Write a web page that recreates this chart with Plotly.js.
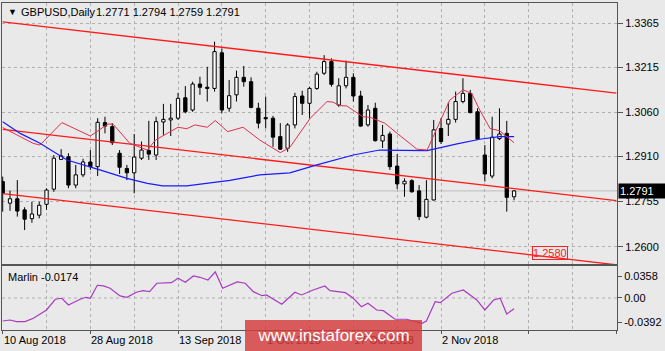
<!DOCTYPE html>
<html>
<head>
<meta charset="utf-8">
<script src="https://cdn.plot.ly/plotly-3.0.1.min.js"></script>
<style>html,body{margin:0;padding:0;background:#e9e9e9;}#chart{width:665px;height:351px;}</style>
</head>
<body>
<div id="chart"></div>
<script>
// ---- data (bar index 0 = 10 Aug 2018 ... 70 = 16 Nov 2018) ----
const openP  = [1.2823,1.2749,1.2764,1.2726,1.2696,1.2708,1.2745,1.2797,1.2899,1.2908,1.2811,1.2846,1.2890,1.2874,1.3025,1.3011,1.2920,1.2868,1.2853,1.2903,1.2929,1.2914,1.3027,1.3034,1.3040,1.3110,1.3068,1.3157,1.3146,1.3142,1.3264,1.3074,1.3120,1.3180,1.3165,1.3074,1.3042,1.3040,1.2977,1.2937,1.3017,1.3116,1.3091,1.3142,1.3194,1.3234,1.3085,1.3151,1.3180,1.3116,1.3017,1.3074,1.2962,1.2986,1.2876,1.2815,1.2826,1.2791,1.2701,1.2760,1.3005,1.3020,1.3036,1.3097,1.3125,1.3062,1.2914,1.2842,1.2970,1.2988,1.2771];
const highP  = [1.2840,1.2792,1.2828,1.2735,1.2754,1.2754,1.2800,1.2914,1.2934,1.2920,1.2880,1.2901,1.2931,1.3040,1.3045,1.3023,1.2931,1.2880,1.2986,1.2960,1.3031,1.3045,1.3089,1.3089,1.3127,1.3150,1.3165,1.3182,1.3216,1.3302,1.3279,1.3171,1.3203,1.3219,1.3180,1.3093,1.3114,1.3048,1.3023,1.3023,1.3127,1.3134,1.3148,1.3199,1.3256,1.3245,1.3177,1.3237,1.3194,1.3134,1.3085,1.3093,1.3017,1.2994,1.2917,1.2834,1.2831,1.2811,1.2828,1.3034,1.3040,1.3093,1.3131,1.3177,1.3137,1.3074,1.2948,1.3045,1.3074,1.3031,1.2794];
const lowP   = [1.2720,1.2723,1.2703,1.2657,1.2682,1.2697,1.2726,1.2788,1.2897,1.2800,1.2800,1.2838,1.2863,1.2842,1.2988,1.2948,1.2849,1.2828,1.2783,1.2897,1.2897,1.2897,1.2983,1.2979,1.3034,1.3057,1.3062,1.3120,1.3097,1.3131,1.3057,1.3062,1.3097,1.3148,1.3074,1.3005,1.3005,1.2942,1.2931,1.2925,1.3005,1.3051,1.3040,1.3137,1.3188,1.3148,1.3079,1.3142,1.3097,1.3011,1.3011,1.2960,1.2938,1.2863,1.2797,1.2771,1.2785,1.2691,1.2697,1.2758,1.2952,1.2979,1.3025,1.3091,1.3057,1.2965,1.2823,1.2834,1.2965,1.2720,1.2759];
const closeP = [1.2783,1.2764,1.2722,1.2694,1.2712,1.2742,1.2794,1.2903,1.2911,1.2811,1.2846,1.2890,1.2874,1.3026,1.3013,1.2956,1.2872,1.2853,1.2907,1.2931,1.2917,1.3028,1.3036,1.3040,1.3108,1.3062,1.3157,1.3146,1.3142,1.3268,1.3068,1.3117,1.3180,1.3165,1.3077,1.3023,1.3038,1.2975,1.2934,1.3017,1.3114,1.3091,1.3142,1.3191,1.3234,1.3156,1.3151,1.3180,1.3116,1.3013,1.3068,1.2963,1.2981,1.2874,1.2815,1.2824,1.2788,1.2703,1.2762,1.3000,1.2960,1.3036,1.3097,1.3125,1.3059,1.2968,1.2849,1.2975,1.2986,1.2769,1.2791];

// short moving average (red): bar index / price
const maRedX = [0,4.15,5.1,6.5,8.1,12,14.4,15.1,17.4,19.8,20.9,24,25.2,26.3,28,29.1,30.8,32.9,35.2,38,39.3,42.1,44.4,45.2,46.2,47.1,49.3,50.3,52.3,54,56.7,58.1,60.1,61.2,63,64.2,65.3,66.7,68,70];
const maRedY = [1.3008,1.2954,1.2948,1.2983,1.3025,1.2979,1.3020,1.3020,1.2954,1.2931,1.2965,1.3009,1.3004,1.3017,1.3009,1.3032,1.2994,1.3009,1.2965,1.2922,1.2940,1.3040,1.3097,1.3095,1.3083,1.3082,1.3045,1.3043,1.3023,1.2988,1.2934,1.2931,1.3040,1.3102,1.3137,1.3125,1.3068,1.3005,1.2997,1.2956];
// long moving average (blue)
const maBlueX = [0,2.4,5.1,6.9,8.8,13.3,17,19.8,21.9,25.2,28,31.1,35.2,39.3,43,48,51.6,57.1,58.1,62.2,65.3,68,70];
const maBlueY = [1.3028,1.2988,1.2954,1.2925,1.2897,1.2863,1.2834,1.2817,1.2808,1.2808,1.2817,1.2827,1.2846,1.2853,1.2880,1.2914,1.2931,1.2929,1.2929,1.2952,1.2968,1.2977,1.2977];
// trend channel (drawn lines)
const chanX   = [0, 84];
const chanTop = [1.3370, 1.3126];
const chanMid = [1.3002, 1.2758];
const chanBot = [1.2782, 1.2538];
const targetPrice = 1.2580;
const lastPrice = 1.2791;
// Marlin oscillator
const marlinX = [0,1,1.9,3.05,4.2,6,7.2,8.1,9,10.6,11.4,12,12.95,13.8,14.7,16.06,17,18.3,19.2,20.1,21.1,23.1,24,25,26.1,27,28.1,29.1,30.1,31.1,32.1,33.2,34.3,35.5,36.1,38.2,40,40.9,42.5,44.1,44.8,46.9,48,49.1,50,51.2,52.1,53.7,55.3,57.4,58,59.2,59.9,61.5,63.05,64.9,66,67.2,68.1,69,70];
const marlinY = [-0.0375,-0.0359,-0.0386,-0.0386,-0.0331,-0.0196,-0.0021,-0.0005,-0.0114,-0.0021,0.0011,-0.0005,0.0207,0.0196,0.0158,0.0033,0.0011,0.0093,0.0119,0.0103,0.0240,0.0249,0.0321,0.0256,0.0359,0.0337,0.0293,0.0424,0.0158,0.0212,0.0261,0.0240,0.0103,0.0037,0.0049,-0.0103,0.0093,0.0049,0.0130,0.0196,0.0119,0.0086,-0.0005,-0.0142,-0.0086,-0.0196,-0.0207,-0.0347,-0.0347,-0.0412,-0.0375,-0.0060,-0.0077,0.0077,0.0130,-0.0033,-0.0196,-0.0033,-0.0005,-0.0261,-0.0174];
const marlinLast = -0.0174;
// axis labels
const priceTicks = [1.3365,1.3215,1.3060,1.2910,1.2755,1.2600];
const oscTicks = [0.0358, 0, -0.0392];
const oscTickText = ['0.0358','0.00','-0.0392'];
const dateTickIdx = [0,12,24,36,48,60];
const dateTickText = ['10 Aug 2018','28 Aug 2018','13 Sep 2018','1 Oct 2018','17 Oct 2018','2 Nov 2018'];

// ---- build ----
const idx = openP.map((_, i) => i);
const bodyBase = idx.map(i => Math.min(openP[i], closeP[i]));
const bodyLen = idx.map(i => Math.max(Math.abs(closeP[i] - openP[i]), 0.00004));
const bodyCol = idx.map(i => closeP[i] >= openP[i] ? '#ffffff' : '#000000');
const wx = [], wy = [];
idx.forEach(i => {
  wx.push(i, i, null, i, i, null);
  wy.push(lowP[i], Math.min(openP[i], closeP[i]), null, Math.max(openP[i], closeP[i]), highP[i], null);
});

const FONT = 'Liberation Sans, Arial, sans-serif';
const L = 2, R = 48, T = 3, B = 21, W = 665, H = 351;
const pw = W - L - R, ph = H - T - B;
const px = X => (X - L) / pw;
const py = Y => (H - B - Y) / ph;

const traces = [
  {type:'bar', x: idx, y: bodyLen, base: bodyBase, width: 0.45, xaxis:'x', yaxis:'y',
   marker:{color: bodyCol, line:{color:'#000', width:1}}, hoverinfo:'skip'},
  {type:'scatter', mode:'lines', x: wx, y: wy, xaxis:'x', yaxis:'y', line:{color:'#000', width:1}, hoverinfo:'skip', connectgaps:false},
  {type:'scatter', mode:'lines', x: chanX, y: chanTop, line:{color:'#ff1a1a', width:1.3}, hoverinfo:'skip'},
  {type:'scatter', mode:'lines', x: chanX, y: chanMid, line:{color:'#ff1a1a', width:1.3}, hoverinfo:'skip'},
  {type:'scatter', mode:'lines', x: chanX, y: chanBot, line:{color:'#ff1a1a', width:1.3}, hoverinfo:'skip'},
  {type:'scatter', mode:'lines', x: maBlueX, y: maBlueY, line:{color:'#1a1aff', width:1.2}, hoverinfo:'skip'},
  {type:'scatter', mode:'lines', x: maRedX, y: maRedY, line:{color:'#e03050', width:1}, hoverinfo:'skip'},
  {type:'scatter', mode:'lines', x: marlinX, y: marlinY, xaxis:'x2', yaxis:'y2', line:{color:'#a83cc0', width:1.2}, hoverinfo:'skip'}
];

const gridCol = '#b0b0b0';
const xCommon = {
  range:[-0.096, 84.09], showticklabels:false, tick0:0, dtick:12,
  showgrid:true, gridcolor:gridCol, griddash:'3px,3px', gridwidth:1,
  minor:{tick0:0, dtick:6, showgrid:true, gridcolor:gridCol, griddash:'3px,3px', gridwidth:1},
  showline:true, mirror:true, linecolor:'#555', linewidth:1, zeroline:false, fixedrange:true
};

const annotations = [];
annotations.push({xref:'paper', yref:'paper', x:px(6), y:py(12), xanchor:'left', yanchor:'middle', text:'▼', showarrow:false, font:{family:FONT, size:9, color:'#000'}});
annotations.push({xref:'paper', yref:'paper', x:px(19), y:py(12), xanchor:'left', yanchor:'middle', text:'GBPUSD,Daily', showarrow:false, font:{family:FONT, size:11, color:'#000'}});
annotations.push({xref:'paper', yref:'paper', x:px(94), y:py(12), xanchor:'left', yanchor:'middle',
  text: [openP[70], highP[70], lowP[70], closeP[70]].map(v => v.toFixed(4)).join(' '), showarrow:false, font:{family:FONT, size:11, color:'#000'}});
annotations.push({xref:'paper', yref:'paper', x:px(6), y:py(276.7), xanchor:'left', yanchor:'middle',
  text:'Marlin ' + marlinLast.toFixed(4), showarrow:false, font:{family:FONT, size:11, color:'#000'}});
dateTickIdx.forEach((d, k) => {
  annotations.push({xref:'x2', yref:'paper', x:d, y:py(339.5), xanchor:'left', yanchor:'middle', xshift:-1,
    text:dateTickText[k], showarrow:false, font:{family:FONT, size:11, color:'#000'}});
});
annotations.push({xref:'paper', yref:'y', x:1, y:lastPrice, xanchor:'left', yanchor:'middle', xshift:1,
  text:lastPrice.toFixed(4), showarrow:false, bgcolor:'#000', borderpad:1, width:44, align:'left',
  font:{family:FONT, size:11, color:'#fff'}});
annotations.push({xref:'x', yref:'y', x:74.9, y:targetPrice, xanchor:'center', yanchor:'middle',
  text:targetPrice.toFixed(4), showarrow:false, bordercolor:'#ff2020', borderwidth:1, borderpad:0,
  font:{family:FONT, size:11, color:'#ff2020'}});
annotations.push({xref:'paper', yref:'paper', x:px(245), y:py(320), xanchor:'left', yanchor:'top',
  text:'www.instaforex.com', showarrow:false, bgcolor:'rgba(212,58,58,0.82)', borderpad:0, borderwidth:0,
  width:177, height:31, align:'center', valign:'middle', font:{family:FONT, size:17, color:'#ffffff'}});

const layout = {
  width:W, height:H, margin:{l:L, r:R, t:T, b:B, pad:0},
  paper_bgcolor:'#e9e9e9', plot_bgcolor:'#e9e9e9', showlegend:false, barmode:'overlay',
  font:{family:FONT, size:11, color:'#000'},
  xaxis: Object.assign({}, xCommon, {anchor:'y', ticks:''}),
  xaxis2: Object.assign({}, xCommon, {anchor:'y2', matches:'x', ticks:'outside', ticklen:3, tickcolor:'#555'}),
  yaxis: {domain:[(H-B-264)/ph, 1], range:[1.25407, 1.34345], side:'right', tickvals:priceTicks,
    ticktext:priceTicks.map(v => v.toFixed(4)), ticks:'outside', ticklen:5, tickcolor:'#555',
    showgrid:true, gridcolor:gridCol, griddash:'3px,3px', showline:true, mirror:true, linecolor:'#555',
    zeroline:false, fixedrange:true, tickfont:{family:FONT, size:11, color:'#000'}},
  yaxis2: {domain:[0, (H-B-266)/ph], range:[-0.0522, 0.0521], side:'right', tickvals:oscTicks, ticktext:oscTickText,
    ticks:'outside', ticklen:4, tickcolor:'#555', showgrid:false, showline:true, mirror:true, linecolor:'#555',
    zeroline:false, fixedrange:true, tickfont:{family:FONT, size:11, color:'#000'}},
  shapes:[
    {type:'line', xref:'paper', yref:'y', x0:0, x1:1, y0:lastPrice, y1:lastPrice, line:{color:'#bdbdbd', width:1}, layer:'below'},
    {type:'line', xref:'paper', yref:'y2', x0:0, x1:1, y0:0, y1:0, line:{color:gridCol, width:1, dash:'3px,3px'}, layer:'below'}
  ],
  annotations: annotations
};

Plotly.newPlot('chart', traces, layout, {displayModeBar:false, staticPlot:true});
</script>
</body>
</html>
